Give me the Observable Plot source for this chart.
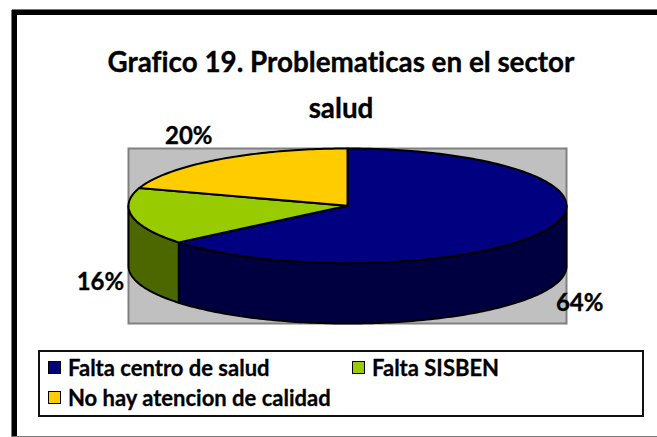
<!DOCTYPE html>
<html>
<head>
<meta charset="utf-8">
<script src="https://cdn.jsdelivr.net/npm/d3@7"></script>
<script src="https://cdn.jsdelivr.net/npm/@observablehq/plot@0.6"></script>
<style>
  html, body { margin: 0; padding: 0; background: #fff; }
  #page { position: relative; width: 657px; height: 437px; overflow: hidden; font-family: Lato, sans-serif; font-weight: 700; color: #000; font-variant-ligatures: none; }
  #frame { position: absolute; left: 12px; top: 10px; width: 660px; height: 425px; border: solid #000; border-width: 5px 0 0 5px; box-shadow: 0 -1px 0 #777, -1px 0 0 #777; }
  #rule { position: absolute; left: 12px; top: 436px; width: 645px; height: 1px; background: #777; }
  #title { position: absolute; left: 0; top: 39px; width: 682px; text-align: center; font-size: 27.8px; line-height: 46px; margin: 0; font-weight: 700; -webkit-text-stroke: 0.35px #000; }
  #chart { position: absolute; left: 0; top: 118px; }
  #legend { position: absolute; left: 38px; top: 350px; width: 602px; height: 63px; border: 2px solid #111; font-size: 22px; -webkit-text-stroke: 0.3px #000; }
  .item { position: absolute; white-space: nowrap; line-height: 24px; }
  .item i { position: absolute; left: -20px; top: 5px; width: 11px; height: 11px; border: 1.5px solid #000; -webkit-text-stroke: 0; }
</style>
</head>
<body>
<div id="page">
  <div id="frame"></div>
  <div id="rule"></div>
  <h1 id="title">Grafico 19. Problematicas en el sector<br>salud</h1>
  <div id="chart"></div>
  <div id="legend"></div>
</div>
<script>
const categories = ["Falta centro de salud", "Falta SISBEN", "No hay atencion de calidad"];
const shares = [64, 16, 20];
const labels = ["64%", "16%", "20%"];
const topColors = ["#000080", "#99CC00", "#FFCC00"];
const sideColors = ["#000040", "#4C6600", "#806600"];

// Pie geometry in data units: the ellipse spans -1..1 on both axes.
const depth = 60 / 57;
const rad = d => d * Math.PI / 180;
const rim = (deg, drop = 0) => ({x: Math.sin(rad(deg)), y: Math.cos(rad(deg)) - drop});
const arc = (a, b, drop = 0) => {
  const n = Math.max(2, Math.ceil(Math.abs(b - a)));
  return d3.range(n + 1).map(i => rim(a + (b - a) * i / n, drop));
};
let acc = 0;
const slices = shares.map((v, i) => {
  const start = acc * 3.6; acc += v; const end = acc * 3.6;
  return {i, start, end, mid: (start + end) / 2};
});
const wedge = s => [{x: 0, y: 0}, ...arc(s.start, s.end), {x: 0, y: 0}];
// The visible outer wall is the part of the rim facing front (90..270 degrees).
const wall = s => {
  const a = Math.max(s.start, 90), b = Math.min(s.end, 270);
  if (a >= b) return null;
  const pts = [...arc(a, b), ...arc(b, a, depth)];
  return [...pts, pts[0]];
};
const face = (data, fill) => Plot.line(data, {x: "x", y: "y", fill, stroke: "#000", strokeWidth: 2, strokeLinejoin: "round", curve: "linear"});

const labelOffsets = [[34, 73], [-32, 66], [-30, -23]];
const labelAnchors = slices.map(s => rim(s.mid));

const marks = [
  Plot.frame({fill: "#C0C0C0", stroke: "#808080", strokeWidth: 2}),
  ...slices.filter(s => wall(s)).map(s => face(wall(s), sideColors[s.i])),
  ...slices.map(s => face(wedge(s), topColors[s.i])),
  ...slices.map(s => Plot.text([labelAnchors[s.i]], {
    x: "x", y: "y", text: () => labels[s.i],
    dx: labelOffsets[s.i][0], dy: labelOffsets[s.i][1],
    fontSize: 24, fontWeight: 700, fontFamily: "Lato, sans-serif", fill: "#000",
    stroke: "#000", strokeWidth: 0.35
  }))
];

const svg = Plot.plot({
  width: 657, height: 222,
  marginLeft: 128, marginRight: 91, marginTop: 30, marginBottom: 17,
  x: {domain: [-1, 1], axis: null},
  y: {domain: [-1 - depth, 1], axis: null},
  style: {background: "transparent", overflow: "visible"},
  marks
});
document.getElementById("chart").append(svg);

const legendPlaces = [{left: 28, top: 4}, {left: 332, top: 4}, {left: 28, top: 34}];
const legend = document.getElementById("legend");
categories.forEach((c, i) => {
  const d = document.createElement("div");
  d.className = "item";
  d.style.left = legendPlaces[i].left + "px";
  d.style.top = legendPlaces[i].top + "px";
  d.innerHTML = `<i style="background:${topColors[i]}"></i>${c}`;
  legend.append(d);
});
</script>
</body>
</html>
